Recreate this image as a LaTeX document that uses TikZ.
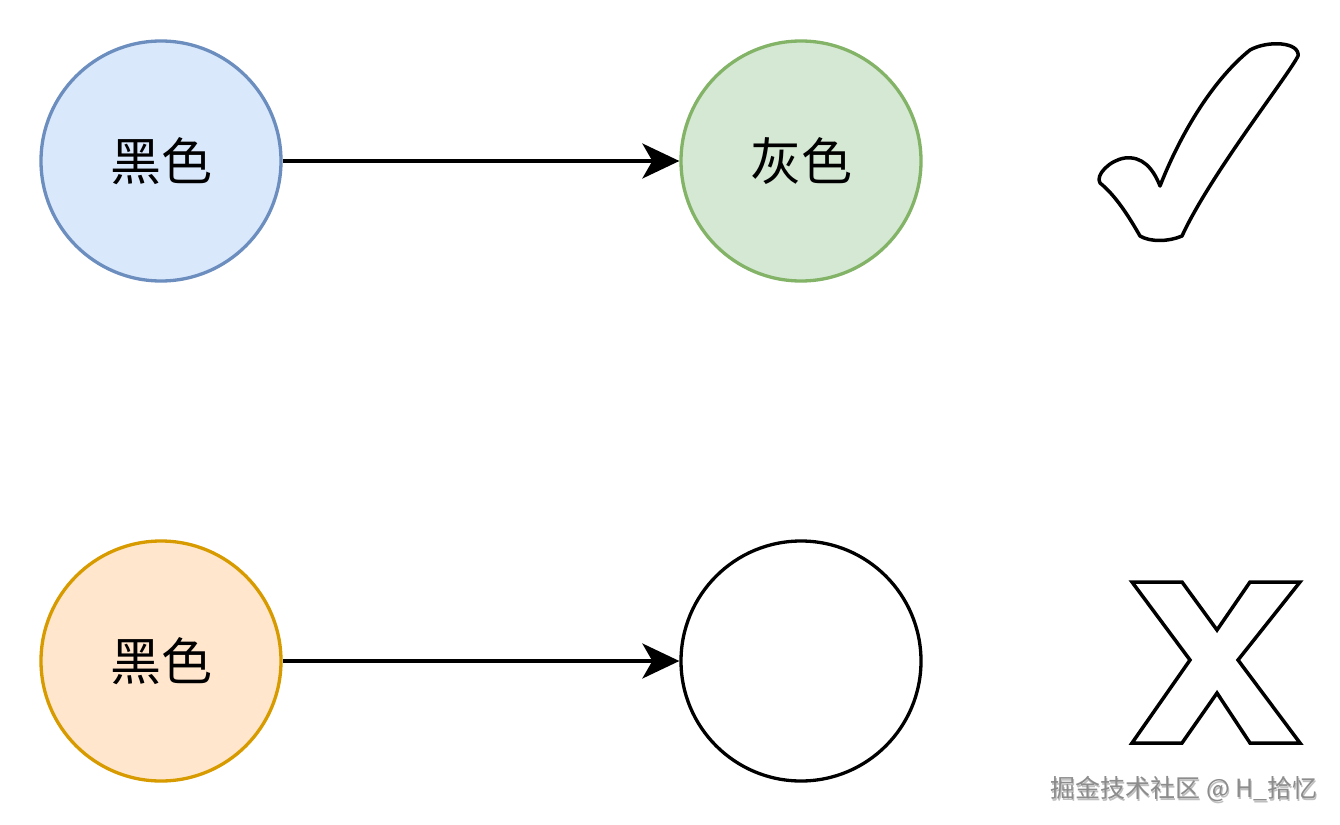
\documentclass[tikz,border=0pt]{standalone}
\usepackage{fontspec}
\newfontfamily\cjk{Noto Sans CJK SC}
\usetikzlibrary{arrows.meta}
\definecolor{bluefill}{HTML}{DAE8FC}
\definecolor{bluedraw}{HTML}{6C8EBF}
\definecolor{greenfill}{HTML}{D5E8D4}
\definecolor{greendraw}{HTML}{82B366}
\definecolor{orangefill}{HTML}{FFE6CC}
\definecolor{orangedraw}{HTML}{D79B00}
\definecolor{wmgray}{HTML}{8C8C8C}
\begin{document}
\begin{tikzpicture}[x=1pt,y=-1pt,
  circ/.style={circle,minimum size=240pt,inner sep=0pt,line width=3.3pt,font=\cjk\fontsize{51}{51}\selectfont},
  conn/.style={line width=3.3pt,-{Stealth[length=37pt,width=35pt,inset=10pt]}},
  symbolshape/.style={line width=3.5pt,line join=round,fill=white}]
\useasboundingbox[fill=white] (0,0) rectangle (1340,824);
\node[circ,draw=bluedraw,fill=bluefill] (a) at (161,161) {黑色};
\node[circ,draw=greendraw,fill=greenfill] (b) at (801,161) {灰色};
\node[circ,draw=orangedraw,fill=orangefill] (c) at (161,661) {黑色};
\node[circ,draw=black,fill=white] (d) at (801,661) {};
\draw[conn] (a) -- (b);
\draw[conn] (c) -- (d);
% check mark
\draw[symbolshape] (1160,186)
  .. controls (1182,130) and (1215,78) .. (1250,50)
  .. controls (1268,40) and (1300,42) .. (1298,56)
  .. controls (1288,76) and (1210,175) .. (1182,236)
  .. controls (1168,242) and (1150,242) .. (1140,236)
  .. controls (1128,215) and (1115,195) .. (1100,183)
  .. controls (1095,175) and (1110,160) .. (1125,158)
  .. controls (1142,156) and (1153,168) .. (1160,186) -- cycle;
% cross mark
\draw[symbolshape,line join=miter] (1132,582) -- (1182,582) -- (1217,630) -- (1250,582) -- (1300,582)
  -- (1238,660) -- (1300,743) -- (1250,743) -- (1217,693) -- (1182,743) -- (1132,743)
  -- (1190,660) -- cycle;
% watermark
\node[anchor=east,inner sep=0pt,text=black!25,font=\cjk\fontsize{25}{25}\selectfont] at (1319,791) {掘金技术社区 @ H\_拾忆};
\node[anchor=east,inner sep=0pt,text=wmgray,font=\cjk\fontsize{25}{25}\selectfont] (wm) at (1318,789) {掘金技术社区 @ H\_拾忆};
\end{tikzpicture}
\end{document}
